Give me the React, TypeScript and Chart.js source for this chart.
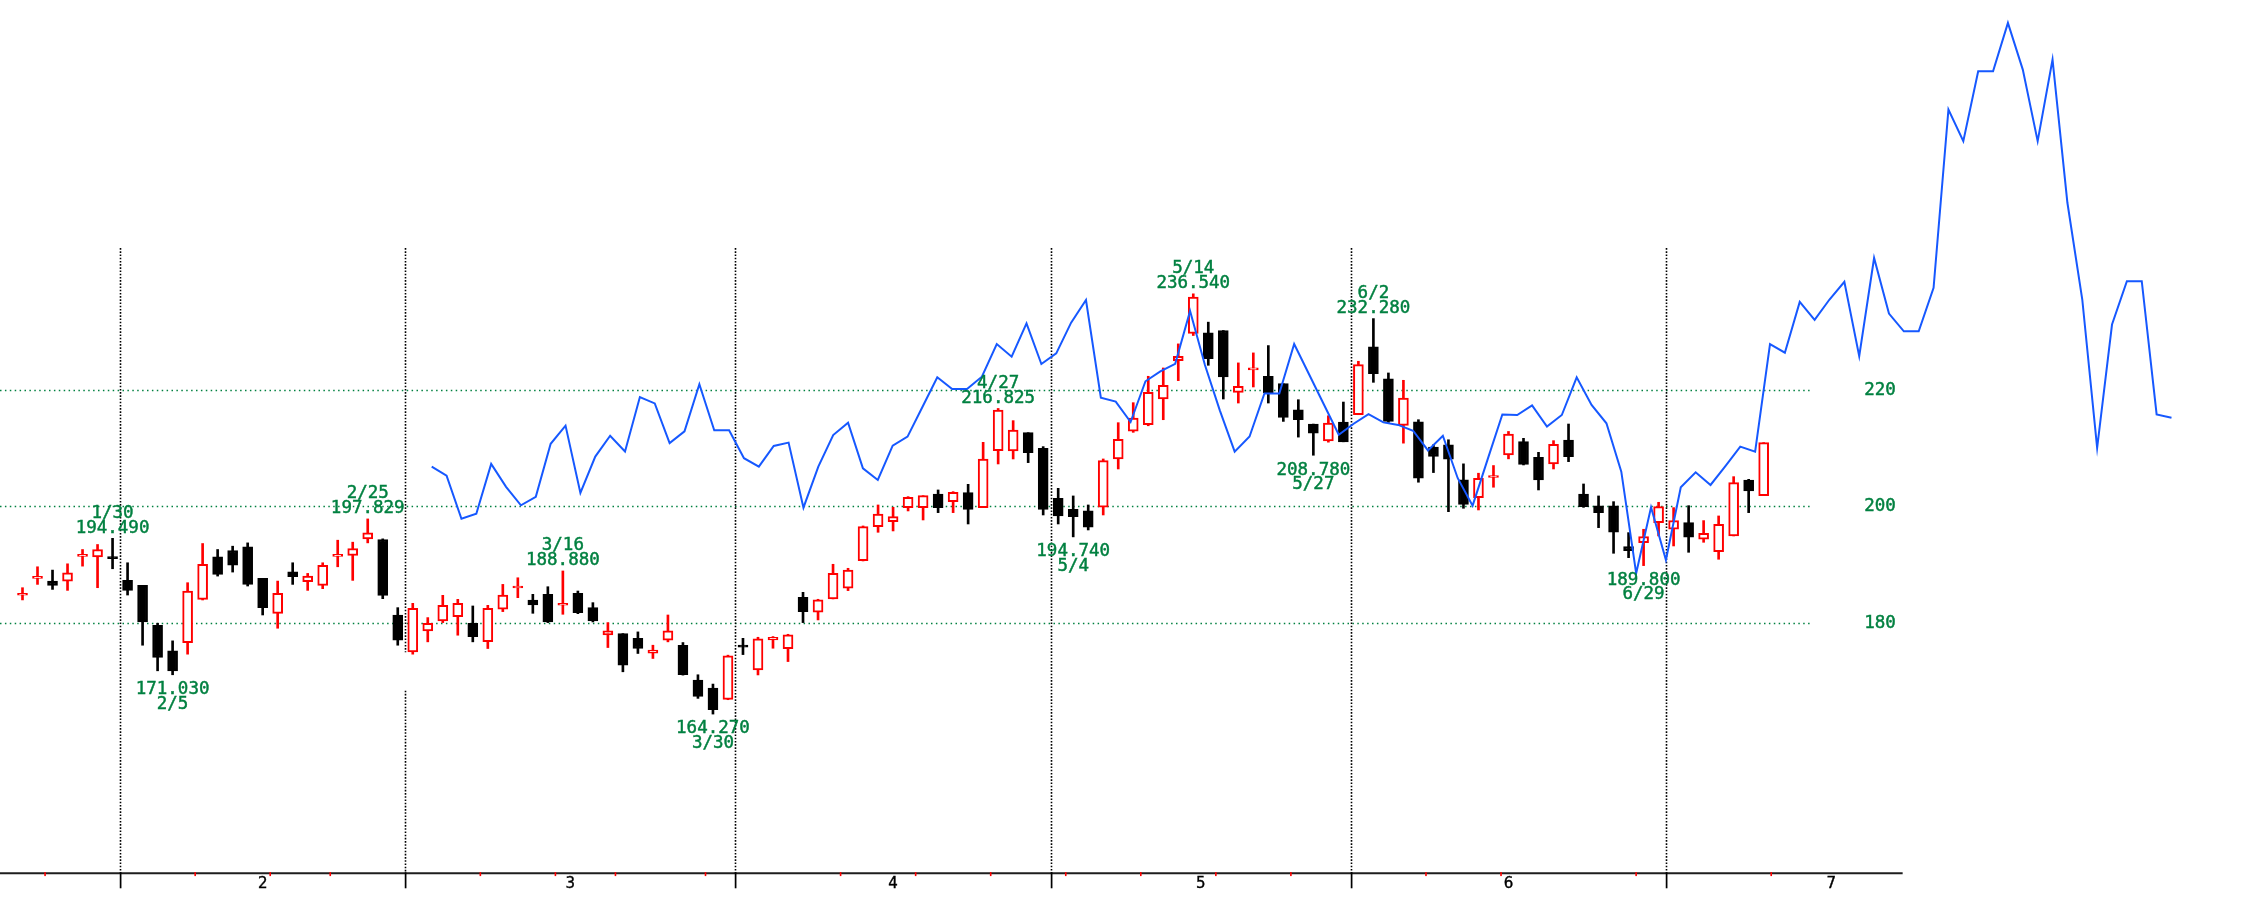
import React, { useEffect, useRef } from 'react';
import { Chart, registerables } from 'chart.js';

Chart.register(...registerables);

// ---------- data ----------
const OPEN = [
  184.70, 187.60, 187.14, 187.14, 191.38, 191.31, 191.07, 187.26, 186.40, 179.54,
  175.14, 176.57, 184.00, 191.31, 192.40, 193.03, 187.60, 181.60, 188.74, 187.03,
  186.40, 191.38, 191.54, 194.40, 194.29, 181.31, 174.97, 178.57, 180.29, 181.03,
  179.89, 176.74, 182.29, 185.95, 183.89, 184.86, 182.98, 185.03, 182.57, 177.89,
  178.11, 177.31, 174.74, 176.97, 176.11, 170.11, 168.74, 166.80, 175.85, 171.86,
  177.02, 175.53, 184.36, 181.78, 184.07, 185.90, 190.66, 196.50, 197.36, 199.77,
  199.77, 202.12, 200.80, 202.35, 199.77, 209.57, 209.51, 212.66, 209.97, 201.38,
  199.48, 199.20, 199.83, 208.14, 212.92, 214.02, 218.45, 225.06, 229.71, 229.83,
  230.23, 219.60, 223.46, 222.36, 221.09, 216.61, 214.14, 211.26, 214.48, 215.75,
  227.41, 221.90, 213.91, 214.54, 210.17, 210.57, 204.54, 201.49, 204.95, 208.85,
  211.12, 208.42, 207.28, 211.40, 202.12, 200.06, 200.06, 193.07, 193.75, 197.19,
  196.05, 197.19, 194.33, 192.21, 194.90, 204.53, 201.83,
];
const HIGH = [
  186.00, 189.60, 189.03, 190.11, 192.57, 193.43, 194.49, 190.29, 186.40, 179.89,
  176.86, 186.86, 193.60, 192.57, 193.14, 193.71, 187.60, 187.14, 190.29, 188.46,
  190.29, 194.17, 193.83, 197.829, 194.40, 182.57, 183.31, 180.86, 184.69, 184.00,
  182.86, 182.97, 186.57, 187.71, 184.86, 186.17, 188.88, 185.43, 183.43, 180.00,
  178.11, 178.40, 176.11, 181.31, 176.57, 171.03, 169.43, 174.40, 177.30, 177.48,
  177.60, 177.99, 185.21, 184.01, 190.03, 189.34, 196.62, 200.23, 199.83, 201.66,
  201.83, 202.81, 202.52, 203.78, 211.00, 216.825, 214.73, 212.66, 210.26, 203.09,
  201.78, 200.23, 208.14, 214.38, 217.82, 222.36, 223.79, 227.93, 236.54, 231.67,
  230.23, 224.66, 226.38, 227.64, 221.09, 218.33, 214.14, 215.57, 217.93, 224.94,
  232.28, 222.93, 221.67, 214.89, 210.57, 211.44, 207.30, 205.69, 207.01, 212.87,
  211.69, 209.28, 211.29, 214.15, 203.84, 201.78, 200.80, 195.47, 196.05, 200.69,
  199.77, 200.11, 197.54, 198.34, 205.10, 204.64, 210.95,
];
const LOW = [
  183.90, 186.57, 185.71, 185.54, 189.71, 186.00, 189.26, 184.74, 176.11, 171.71,
  171.03, 174.57, 183.89, 188.00, 188.69, 186.29, 181.31, 179.03, 186.57, 185.54,
  185.83, 189.60, 187.26, 193.71, 184.11, 176.11, 174.57, 176.69, 180.00, 177.83,
  176.69, 175.54, 181.89, 184.29, 181.60, 180.00, 181.43, 181.54, 180.11, 175.71,
  171.54, 174.69, 173.83, 176.69, 170.97, 166.97, 164.27, 166.74, 174.50, 171.00,
  175.59, 173.30, 180.00, 180.46, 184.07, 185.50, 190.60, 195.53, 195.76, 199.20,
  197.65, 198.91, 198.91, 196.96, 199.77, 207.28, 208.14, 207.51, 198.51, 196.96,
  194.74, 195.93, 198.51, 206.42, 212.72, 213.85, 214.89, 221.61, 229.37, 224.25,
  218.45, 217.76, 220.52, 217.76, 214.60, 211.90, 208.78, 211.03, 211.09, 215.75,
  221.32, 214.43, 210.86, 204.14, 205.80, 199.08, 199.66, 199.37, 203.28, 208.16,
  207.11, 202.81, 206.42, 207.68, 199.83, 196.33, 191.92, 191.17, 189.80, 194.90,
  193.18, 192.09, 193.81, 190.89, 194.90, 198.91, 201.83,
];
const CLOSE = [
  184.78, 187.70, 186.40, 188.57, 191.46, 192.57, 191.00, 185.54, 180.11, 174.00,
  171.71, 185.43, 190.00, 188.29, 189.89, 186.57, 182.57, 185.03, 187.89, 188.00,
  189.83, 191.48, 192.74, 195.43, 184.69, 176.97, 182.46, 179.89, 182.97, 183.31,
  177.60, 182.46, 184.74, 186.05, 183.03, 180.11, 183.08, 181.71, 180.29, 178.57,
  172.69, 175.54, 175.26, 178.57, 171.03, 167.31, 165.03, 174.28, 175.77, 177.19,
  177.48, 177.88, 181.89, 183.90, 188.48, 189.05, 196.50, 198.68, 198.22, 201.55,
  201.83, 199.77, 202.41, 199.48, 208.14, 216.56, 213.12, 209.23, 199.48, 198.34,
  198.22, 196.39, 207.85, 211.52, 215.15, 219.60, 220.80, 225.80, 235.98, 225.40,
  222.24, 220.63, 223.56, 219.48, 215.29, 214.89, 212.59, 214.31, 211.09, 224.37,
  222.82, 214.60, 218.62, 204.83, 208.56, 208.10, 200.34, 204.83, 205.05, 212.41,
  207.22, 204.53, 210.66, 208.54, 199.94, 198.91, 195.53, 192.38, 194.79, 199.94,
  197.54, 194.67, 195.36, 196.91, 204.07, 202.64, 210.95,
];

// comparison line (own horizontal axis)
const BLUE = [
  206.82, 205.26, 197.86, 198.73, 207.28, 203.35, 200.17, 201.62, 210.75, 213.87,
  202.31, 208.55, 212.14, 209.42, 218.79, 217.69, 210.87, 212.89, 220.98, 213.06,
  213.06, 208.27, 206.82, 210.37, 210.95, 199.77, 206.82, 212.26, 214.38, 206.53,
  204.53, 210.43, 211.98, 217.08, 222.18, 220.17, 220.17, 222.29, 227.91, 225.73,
  231.46, 224.47, 226.30, 231.58, 235.47, 218.68, 218.00, 214.50, 221.50, 223.20,
  224.50, 233.60, 224.30, 216.50, 209.40, 212.00, 219.40, 219.40, 227.90, 222.70,
  217.50, 212.30, 214.20, 215.86, 214.43, 214.00, 212.99, 209.60, 212.13, 204.83,
  200.11, 207.99, 215.80, 215.70, 217.36, 213.70, 215.70, 222.18, 217.42, 214.27,
  205.96, 188.48, 199.83, 190.77, 203.27, 205.85, 203.67, 206.90, 210.26, 209.40,
  227.90, 226.42, 235.15, 232.07, 235.56, 238.60, 225.80, 242.70, 233.15, 230.10,
  230.10, 237.57, 268.24, 262.80, 274.82, 274.82, 283.14, 275.10, 262.80, 276.83,
  252.20, 235.56, 210.06, 231.26, 238.71, 238.71, 215.79, 215.22,
];

// months: label and first / last trading-day index
const MONTH_LABELS = ['2', '3', '4', '5', '6', '7'];
const MONTH_FIRST = [7, 26, 48, 69, 89, 110];
const MONTH_LAST = [25, 47, 68, 88, 109, 131];
// week-start ticks (between candles)
const WEEK_TICKS = [1.5, 11.5, 16.5, 20.5, 30.5, 35.5, 39.5, 45.5, 54.5, 59.5, 64.5,
  69.5, 74.5, 79.5, 84.5, 93.5, 98.5, 107.5, 116.5];
const Y_TICKS = [180, 200, 220];

// marked highs / lows
const HIGH_MARK_INDEX = [6, 23, 36, 65, 78, 90];
const HIGH_MARK_DATE = ['1/30', '2/25', '3/16', '4/27', '5/14', '6/2'];
const LOW_MARK_INDEX = [10, 46, 70, 86, 108];
const LOW_MARK_DATE = ['2/5', '3/30', '5/4', '5/27', '6/29'];

// ---------- layout / style constants ----------
const W = 2243;
const H = 907;
const X_MIN = -1.499;
const X_MAX = X_MIN + W / 15.01;
const X2_MIN = -29.032;
const X2_MAX = X2_MIN + W / 14.87;
const Y_MAX = 200 + 506.3 / 5.815;
const Y_MIN = 200 - (H - 506.3) / 5.815;
const AXIS_VALUE = 136.89;     // value at which the bottom axis line sits
const AXIS_END = 125.26;       // axis line ends here (index units)
const GRID_END = 119.15;       // horizontal grid ends (index units)
const Y_LABEL_AT = 122.7;      // y labels left edge (index units)
const VLINE_TOP = 244.4;       // top of month separators (value units)
const GAP_MONTH = 1;           // separator with a gap
const GAP_FROM = 168.3;
const GAP_TO = 174.9;

const RED = '#ff0000';
const BLACK = '#000000';
const GREEN = '#008040';
const BLUE_C = 'rgb(22,88,255)';
const MONO = '"DejaVu Sans Mono", "Liberation Mono", monospace';

function boldText(ctx: CanvasRenderingContext2D, s: string, x: number, y: number) {
  ctx.fillText(s, x, y);
  ctx.strokeText(s, x, y);
}

const overlay = {
  id: 'overlay',
  beforeDatasetsDraw(chart: any) {
    const { ctx } = chart;
    const xs = chart.scales.x;
    const ys = chart.scales.y;
    ctx.save();
    // horizontal dotted grid
    ctx.strokeStyle = GREEN;
    ctx.lineWidth = 1.4;
    ctx.setLineDash([1.5, 3.4]);
    const x0 = xs.getPixelForValue(X_MIN);
    const x1 = xs.getPixelForValue(GRID_END);
    for (const v of Y_TICKS) {
      const py = Math.round(ys.getPixelForValue(v)) + 0.5;
      ctx.beginPath();
      ctx.moveTo(x0, py);
      ctx.lineTo(x1, py);
      ctx.stroke();
    }
    // month separators
    ctx.strokeStyle = BLACK;
    ctx.lineWidth = 1.6;
    ctx.setLineDash([1.6, 1.6]);
    const top = ys.getPixelForValue(VLINE_TOP);
    const bottom = ys.getPixelForValue(AXIS_VALUE);
    MONTH_FIRST.forEach((f, k) => {
      const px = Math.round(xs.getPixelForValue(f - 0.5)) + 0.5;
      ctx.beginPath();
      if (k === GAP_MONTH) {
        ctx.moveTo(px, top);
        ctx.lineTo(px, ys.getPixelForValue(GAP_TO));
        ctx.moveTo(px, ys.getPixelForValue(GAP_FROM));
        ctx.lineTo(px, bottom);
      } else {
        ctx.moveTo(px, top);
        ctx.lineTo(px, bottom);
      }
      ctx.stroke();
    });
    ctx.restore();
  },
  afterDatasetsDraw(chart: any) {
    const { ctx } = chart;
    const xs = chart.scales.x;
    const ys = chart.scales.y;
    ctx.save();
    ctx.setLineDash([]);
    const axisY = ys.getPixelForValue(AXIS_VALUE);
    // axis line
    ctx.strokeStyle = '#1e1e1e';
    ctx.lineWidth = 2;
    ctx.beginPath();
    ctx.moveTo(xs.getPixelForValue(X_MIN), axisY);
    ctx.lineTo(xs.getPixelForValue(AXIS_END), axisY);
    ctx.stroke();
    // week ticks (red)
    ctx.fillStyle = RED;
    for (const t of WEEK_TICKS) {
      const px = xs.getPixelForValue(t);
      ctx.fillRect(px - 0.75, axisY - 1.2, 1.6, 4);
    }
    // month ticks (black) and labels
    ctx.fillStyle = BLACK;
    MONTH_FIRST.forEach((f) => {
      const px = xs.getPixelForValue(f - 0.5);
      ctx.fillRect(Math.round(px) - 0.25, axisY - 1, 1.7, 16);
    });
    ctx.font = '15px "DejaVu Sans", sans-serif';
    ctx.textAlign = 'center';
    ctx.textBaseline = 'alphabetic';
    ctx.strokeStyle = BLACK;
    ctx.lineWidth = 0.4;
    MONTH_LABELS.forEach((lab, k) => {
      const mid = (MONTH_FIRST[k] + MONTH_LAST[k]) / 2;
      boldText(ctx, lab, xs.getPixelForValue(mid), axisY + 15);
    });
    // y labels
    ctx.fillStyle = GREEN;
    ctx.strokeStyle = GREEN;
    ctx.lineWidth = 0.45;
    ctx.font = `17.5px ${MONO}`;
    ctx.textAlign = 'left';
    ctx.textBaseline = 'middle';
    for (const v of Y_TICKS) {
      boldText(ctx, String(v), xs.getPixelForValue(Y_LABEL_AT), ys.getPixelForValue(v) + 0.5);
    }
    // high / low marks
    ctx.textAlign = 'center';
    ctx.textBaseline = 'alphabetic';
    HIGH_MARK_INDEX.forEach((i, k) => {
      const px = xs.getPixelForValue(i);
      const py = ys.getPixelForValue(HIGH[i]);
      boldText(ctx, HIGH_MARK_DATE[k], px, py - 20.5);
      boldText(ctx, HIGH[i].toFixed(3), px, py - 5.5);
    });
    LOW_MARK_INDEX.forEach((i, k) => {
      const px = xs.getPixelForValue(i);
      const py = ys.getPixelForValue(LOW[i]);
      boldText(ctx, LOW[i].toFixed(3), px, py + 19.3);
      boldText(ctx, LOW_MARK_DATE[k], px, py + 33.8);
    });
    ctx.restore();
  },
};

export default function App() {
  const ref = useRef<HTMLCanvasElement | null>(null);

  useEffect(() => {
    document.body.style.margin = '0';
    document.body.style.overflow = 'hidden';
    const canvas = ref.current;
    if (!canvas) return;
    const up = CLOSE.map((c, i) => c >= OPEN[i]);
    const candleColor = up.map((u) => (u ? RED : BLACK));
    const chart = new Chart(canvas, {
      type: 'bar',
      data: {
        datasets: [
          {
            type: 'line',
            label: 'line',
            xAxisID: 'x2',
            yAxisID: 'y',
            data: BLUE.map((v, p) => ({ x: p, y: v })),
            borderColor: BLUE_C,
            borderWidth: 2,
            pointRadius: 0,
            tension: 0,
            fill: false,
            order: 0,
          } as any,
          {
            type: 'bar',
            label: 'body',
            xAxisID: 'x',
            yAxisID: 'y',
            data: OPEN.map((o, i) => ({ x: i, y: [o, CLOSE[i]] })),
            backgroundColor: up.map((u) => (u ? '#ffffff' : BLACK)),
            borderColor: candleColor,
            borderWidth: 2,
            borderSkipped: false,
            barThickness: 10,
            minBarLength: 2,
            grouped: false,
            order: 1,
          } as any,
          {
            type: 'bar',
            label: 'wick',
            xAxisID: 'x',
            yAxisID: 'y',
            data: LOW.map((l, i) => ({ x: i, y: [l, HIGH[i]] })),
            backgroundColor: candleColor,
            borderWidth: 0,
            barThickness: 2,
            grouped: false,
            order: 2,
          } as any,
        ],
      },
      options: {
        animation: false,
        responsive: false,
        devicePixelRatio: 1,
        layout: { padding: 0 },
        plugins: {
          legend: { display: false },
          tooltip: { enabled: false },
        },
        events: [],
        scales: {
          x: { type: 'linear', min: X_MIN, max: X_MAX, display: false, offset: false, grid: { display: false } },
          x2: { type: 'linear', min: X2_MIN, max: X2_MAX, display: false, offset: false, grid: { display: false } },
          y: { type: 'linear', min: Y_MIN, max: Y_MAX, display: false, grid: { display: false } },
        },
      } as any,
      plugins: [overlay],
    });
    return () => chart.destroy();
  }, []);

  return (
    <div style={{ position: 'fixed', left: 0, top: 0, width: W, height: H, background: '#fff' }}>
      <canvas ref={ref} width={W} height={H} style={{ display: 'block', width: W, height: H }} />
    </div>
  );
}
